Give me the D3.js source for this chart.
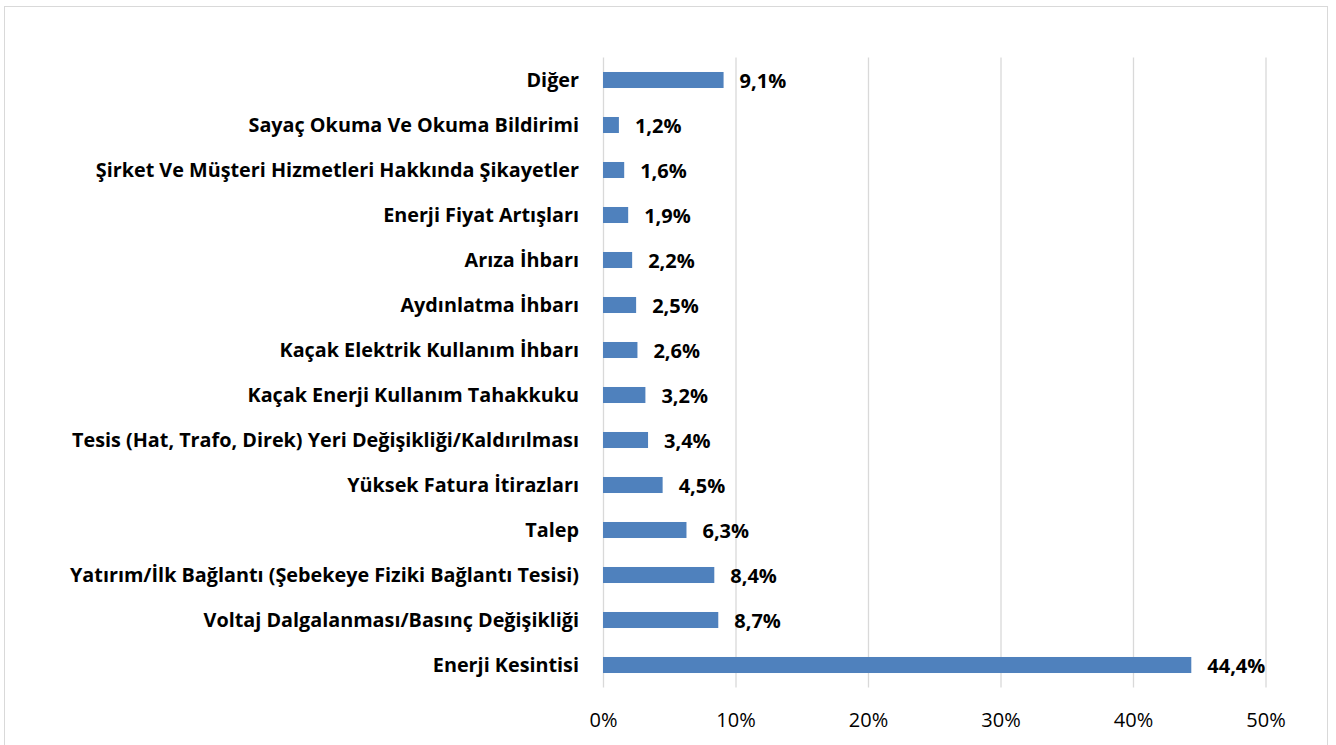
<!DOCTYPE html>
<html>
<head>
<meta charset="utf-8">
<script src="https://cdn.jsdelivr.net/npm/d3@7"></script>
<style>
  body { margin: 0; background: #fff; }
  svg { display: block; }
</style>
</head>
<body>
<svg id="chart" width="1336" height="745"></svg>
<script>
const categories = [
  "Diğer",
  "Sayaç Okuma Ve Okuma Bildirimi",
  "Şirket Ve Müşteri Hizmetleri Hakkında Şikayetler",
  "Enerji Fiyat Artışları",
  "Arıza İhbarı",
  "Aydınlatma İhbarı",
  "Kaçak Elektrik Kullanım İhbarı",
  "Kaçak Enerji Kullanım Tahakkuku",
  "Tesis (Hat, Trafo, Direk) Yeri Değişikliği/Kaldırılması",
  "Yüksek Fatura İtirazları",
  "Talep",
  "Yatırım/İlk Bağlantı (Şebekeye Fiziki Bağlantı Tesisi)",
  "Voltaj Dalgalanması/Basınç Değişikliği",
  "Enerji Kesintisi"
]
const values = [9.1, 1.2, 1.6, 1.9, 2.2, 2.5, 2.6, 3.2, 3.4, 4.5, 6.3, 8.4, 8.7, 44.4]
const xTicks = [0, 10, 20, 30, 40, 50]

const font = "'Open Sans', sans-serif"
const svg = d3.select('#chart')

// outer frame
svg.append('rect')
  .attr('x', 4.5).attr('y', 6.5)
  .attr('width', 1323).attr('height', 745)
  .attr('fill', 'none').attr('stroke', '#d9d9d9')

const plotLeft = 603, plotRight = 1265.5, plotTop = 57.5, plotBottom = 687.5

const x = d3.scaleLinear().domain([0, 50]).range([plotLeft, plotRight])
const y = d3.scaleBand().domain(categories).range([plotTop, plotBottom]).paddingInner(0.644).paddingOuter(0.322)

// gridlines + tick labels
svg.append('g')
  .attr('transform', 'translate(0,' + plotBottom + ')')
  .call(d3.axisBottom(x).tickValues(xTicks).tickSize(-(plotBottom - plotTop)).tickFormat(d => d + '%').tickPadding(19))
  .call(g => g.select('.domain').remove())
  .call(g => g.selectAll('.tick line').attr('stroke', '#d9d9d9').attr('stroke-width', 1.3))
  .call(g => g.selectAll('.tick text').attr('font-family', font).attr('font-size', 20).attr('fill', '#000').attr('dy', '1em'))

// bars
svg.append('g').selectAll('rect').data(values).enter().append('rect')
  .attr('x', x(0))
  .attr('y', (d, i) => y(categories[i]))
  .attr('width', d => x(d) - x(0))
  .attr('height', y.bandwidth())
  .attr('fill', '#4f81bd')

// value labels
svg.append('g').selectAll('text').data(values).enter().append('text')
  .attr('x', d => x(d) + 16)
  .attr('y', (d, i) => y(categories[i]) + y.bandwidth() / 2)
  .attr('dy', '0.42em')
  .attr('font-family', font).attr('font-size', 20).attr('font-weight', 'bold')
  .text(d => d.toFixed(1).replace('.', ',') + '%')

// category labels
svg.append('g').selectAll('text').data(categories).enter().append('text')
  .attr('x', 579)
  .attr('y', d => y(d) + y.bandwidth() / 2)
  .attr('dy', '0.36em')
  .attr('text-anchor', 'end')
  .attr('font-family', font).attr('font-size', 19.8).attr('font-weight', 'bold')
  .text(d => d)
</script>
</body>
</html>
